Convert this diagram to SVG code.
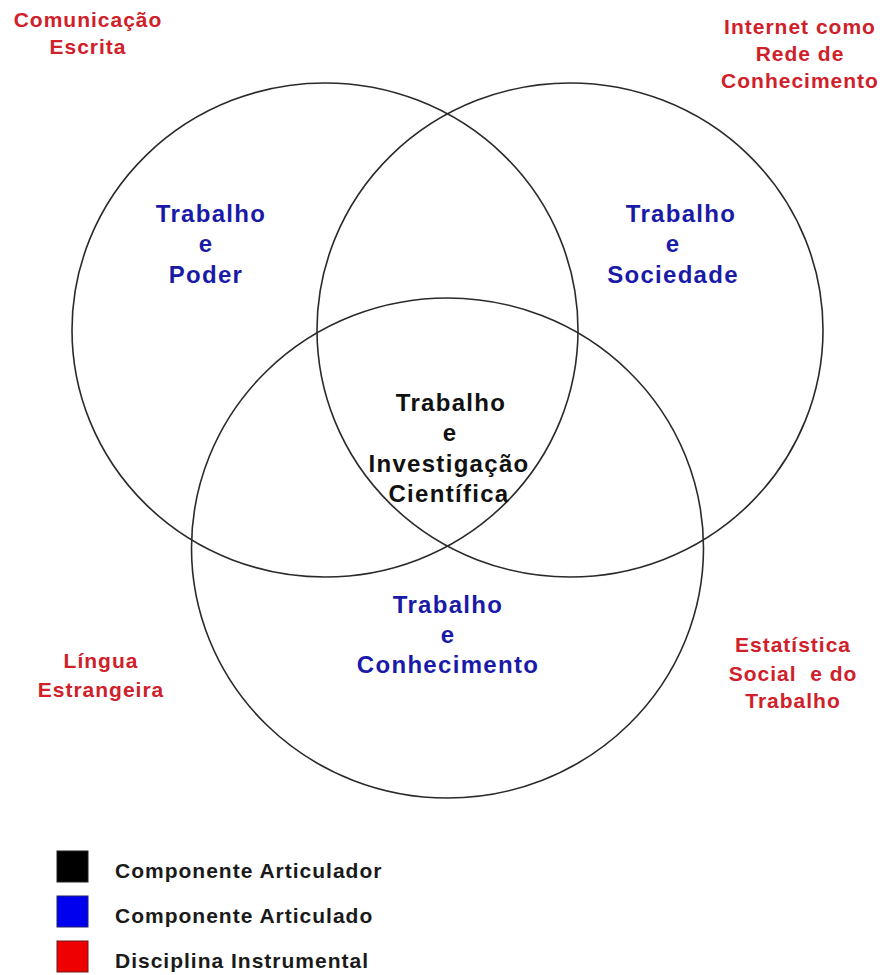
<svg xmlns="http://www.w3.org/2000/svg" width="885" height="975" viewBox="0 0 885 975">
<style>
text{font-family:"Liberation Sans",Arial,sans-serif;font-weight:bold;text-anchor:middle;letter-spacing:1px}
.red{fill:#d0202a;font-size:21px}
.blue{fill:#1a1aa8;font-size:24px;letter-spacing:1.3px}
.blk{fill:#111;font-size:24px;letter-spacing:1.3px}
.leg{fill:#1a1a1a;font-size:21px;text-anchor:start}
.ring{fill:none;stroke:#2a2a2a;stroke-width:1.6}
</style>
<rect width="885" height="975" fill="#fff"/>
<g id="circles">
<ellipse class="ring" cx="325" cy="330" rx="253" ry="247"/>
<ellipse class="ring" cx="570" cy="330" rx="253" ry="247"/>
<ellipse class="ring" cx="447.5" cy="548" rx="256" ry="250"/>
</g>
<g id="comunicacao"><text class="red" x="88" y="27">Comunicação</text><text class="red" x="88" y="54">Escrita</text></g>
<g id="internet"><text class="red" x="800" y="34">Internet como</text><text class="red" x="800" y="61">Rede de</text><text class="red" x="800" y="88">Conhecimento</text></g>
<g id="lingua"><text class="red" x="101" y="668">Língua</text><text class="red" x="101" y="697">Estrangeira</text></g>
<g id="estatistica"><text class="red" x="793" y="652">Estatística</text><text class="red" x="793" y="681" xml:space="preserve">Social  e do</text><text class="red" x="793" y="708">Trabalho</text></g>
<g id="poder"><text class="blue" x="211" y="222">Trabalho</text><text class="blue" x="206" y="252">e</text><text class="blue" x="206" y="283">Poder</text></g>
<g id="sociedade"><text class="blue" x="681" y="222">Trabalho</text><text class="blue" x="673" y="252">e</text><text class="blue" x="673" y="283">Sociedade</text></g>
<g id="investigacao"><text class="blk" x="451" y="411">Trabalho</text><text class="blk" x="450" y="441">e</text><text class="blk" x="449" y="472">Investigação</text><text class="blk" x="449" y="502">Científica</text></g>
<g id="conhecimento"><text class="blue" x="448" y="613">Trabalho</text><text class="blue" x="448" y="643">e</text><text class="blue" x="448" y="673">Conhecimento</text></g>
<g id="legend">
<rect x="57" y="851" width="31" height="31" fill="#000" stroke="#222"/>
<rect x="57" y="896" width="31" height="31" fill="#0000ee" stroke="#22226a"/>
<rect x="57" y="941" width="31" height="31" fill="#ee0000" stroke="#6a1a1a"/>
<text class="leg" x="115" y="878">Componente Articulador</text>
<text class="leg" x="115" y="923">Componente Articulado</text>
<text class="leg" x="115" y="968">Disciplina Instrumental</text>
</g>
</svg>
